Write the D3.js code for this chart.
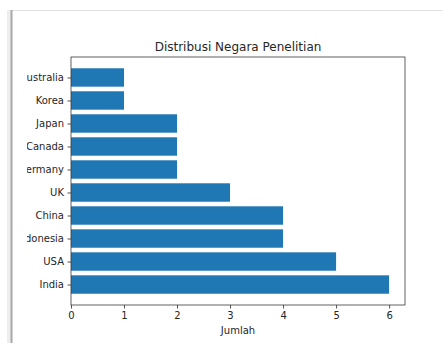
<!DOCTYPE html>
<html>
<head>
<meta charset="utf-8">
<script src="https://cdn.jsdelivr.net/npm/d3@7"></script>
<style>
  html, body { margin: 0; padding: 0; background: #fff; }
  svg { display: block; font-family: "DejaVu Sans", sans-serif; }
</style>
</head>
<body>
<svg id="chart" width="443" height="343"></svg>
<script>
// Countries (bottom to top) and number of studies per country
const countries = ["India", "USA", "Indonesia", "China", "UK", "Germany", "Canada", "Japan", "Korea", "Australia"];
const counts = [6, 5, 4, 4, 3, 2, 2, 2, 1, 1];
const xTicks = [0, 1, 2, 3, 4, 5, 6];
const title = "Distribusi Negara Penelitian";
const xLabel = "Jumlah";

const svg = d3.select("#chart");
const W = 443, H = 343;
const plot = { left: 71, right: 405, top: 57, bottom: 305 };
const barColor = "#1f77b4";
const ink = "#262626";

// Window edge: light top border and darker left border with a faint shadow
svg.append("rect").attr("x", 0).attr("y", 0).attr("width", W).attr("height", H).attr("fill", "#fff");

// Plot content clipped on the left, as in a cropped window
const clip = svg.append("defs").append("clipPath").attr("id", "view");
clip.append("rect").attr("x", 27).attr("y", 0).attr("width", W - 27).attr("height", H);
const g = svg.append("g").attr("clip-path", "url(#view)");

const x = d3.scaleLinear().domain([0, 6.3]).range([plot.left, plot.right]);
// Band layout mirroring matplotlib's barh: unit spacing, bar height 0.8, 5% margins
const y = d3.scaleLinear().domain([-0.89, 9.89]).range([plot.bottom, plot.top]);
const barH = 0.8;

g.selectAll("rect.bar")
  .data(countries.map((c, i) => ({ c, v: counts[i], i })))
  .join("rect")
  .attr("class", "bar")
  .attr("x", x(0))
  .attr("y", d => y(d.i + barH / 2))
  .attr("width", d => x(d.v) - x(0))
  .attr("height", d => y(d.i - barH / 2) - y(d.i + barH / 2))
  .attr("fill", barColor);

// Y axis: country labels with left ticks
const yAxis = d3.axisLeft(y)
  .tickValues(d3.range(countries.length))
  .tickFormat(i => countries[i])
  .tickSize(3.5)
  .tickPadding(3.5);
const ya = g.append("g").attr("transform", `translate(${plot.left},0)`).call(yAxis);
ya.select(".domain").remove();
ya.selectAll("line").attr("stroke", ink).attr("stroke-width", 0.8);
ya.selectAll("text").attr("fill", ink).attr("font-size", 10).attr("font-family", "DejaVu Sans");

// X axis
const xAxis = d3.axisBottom(x).tickValues(xTicks).tickFormat(d3.format("d")).tickSize(3.5).tickPadding(3.5);
const xa = g.append("g").attr("transform", `translate(0,${plot.bottom})`).call(xAxis);
xa.select(".domain").remove();
xa.selectAll("line").attr("stroke", ink).attr("stroke-width", 0.8);
xa.selectAll("text").attr("fill", ink).attr("font-size", 10).attr("font-family", "DejaVu Sans");

// Plot frame
g.append("rect")
  .attr("x", plot.left).attr("y", plot.top)
  .attr("width", plot.right - plot.left).attr("height", plot.bottom - plot.top)
  .attr("fill", "none").attr("stroke", "#3a3a3a").attr("stroke-width", 0.8);

// Title and axis label
g.append("text")
  .attr("x", (plot.left + plot.right) / 2).attr("y", 51)
  .attr("text-anchor", "middle").attr("font-size", 12).attr("fill", ink)
  .text(title);
g.append("text")
  .attr("x", (plot.left + plot.right) / 2).attr("y", 334)
  .attr("text-anchor", "middle").attr("font-size", 10).attr("fill", ink)
  .text(xLabel);

// Window borders
svg.append("line").attr("x1", 12).attr("x2", W).attr("y1", 10.5).attr("y2", 10.5)
  .attr("stroke", "#e2e2e2").attr("stroke-width", 1);
svg.append("rect").attr("x", 7).attr("y", 10).attr("width", 4).attr("height", H - 10)
  .attr("fill", "#eeeeee");
svg.append("rect").attr("x", 10.5).attr("y", 10).attr("width", 2).attr("height", H - 10)
  .attr("fill", "#a8a8a8");
</script>
</body>
</html>
